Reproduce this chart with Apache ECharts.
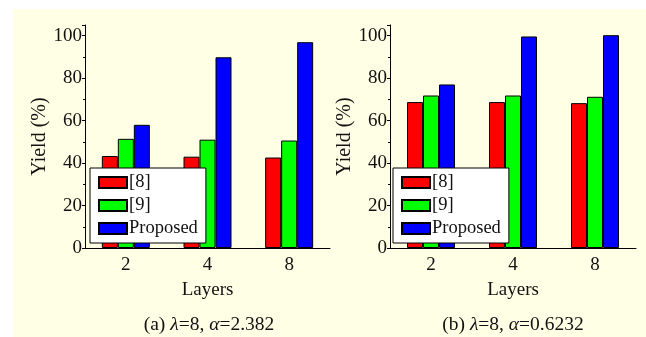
<!DOCTYPE html>
<html><head><meta charset="utf-8">
<script src="https://cdn.jsdelivr.net/npm/echarts@6/dist/echarts.min.js"></script>
<style>html,body{margin:0;padding:0;background:#fff}#c{width:646px;height:337px}</style>
</head><body><div id="c"></div>
<script>
const categories = ['2', '4', '8'];
const seriesNames = ['[8]', '[9]', 'Proposed'];
const leftRef8 = [43.3, 43.0, 42.6];
const leftRef9 = [51.4, 51.0, 50.6];
const leftProposed = [58.0, 89.8, 96.9];
const rightRef8 = [68.7, 68.7, 68.2];
const rightRef9 = [71.8, 71.8, 71.2];
const rightProposed = [77.0, 99.6, 100.2];
const yTicks = [0, 20, 40, 60, 80, 100];
const captions = ['(a) {i|λ}=8, {i|α}=2.382', '(b) {i|λ}=8, {i|α}=0.6232'];
const colors = ['#ff0000', '#00ff00', '#0000ff'];

const FONT = 'Liberation Serif';
const chart = echarts.init(document.getElementById('c'), null, {renderer: 'canvas'});

const grids = [
  {left: 85, top: 25, width: 245, height: 223},
  {left: 390, top: 25, width: 246, height: 223}
];
function xAxis(i) {
  return {
    type: 'category', gridIndex: i, data: categories,
    name: 'Layers', nameLocation: 'middle', nameGap: 33,
    nameTextStyle: {fontFamily: FONT, fontSize: 19, color: '#111'},
    axisLine: {lineStyle: {color: '#000', width: 1}},
    axisTick: {inside: true, length: 4, lineStyle: {color: '#000'}},
    axisLabel: {fontFamily: FONT, fontSize: 19, color: '#111', margin: 8},
    splitLine: {show: false}
  };
}
function yAxis(i) {
  return {
    type: 'value', gridIndex: i, min: 0, max: 105, interval: 20,
    name: 'Yield (%)', nameLocation: 'middle', nameGap: 35,
    nameTextStyle: {fontFamily: FONT, fontSize: 20, color: '#111'},
    axisLine: {show: true, lineStyle: {color: '#000', width: 1}},
    axisTick: {show: true, length: 3, lineStyle: {color: '#000'}},
    minorTick: {show: true, splitNumber: 2, length: 2, lineStyle: {color: '#000'}},
    axisLabel: {fontFamily: FONT, fontSize: 19, color: '#111', margin: 3,
      formatter: v => yTicks.includes(v) ? String(v) : ''},
    splitLine: {show: false}
  };
}
function bars(i, data, k) {
  return {
    type: 'bar', name: seriesNames[k], xAxisIndex: i, yAxisIndex: i, data: data,
    barWidth: 16, barGap: '0%',
    itemStyle: {color: colors[k], borderColor: '#000', borderWidth: 1},
    animation: false
  };
}
function legend(left) {
  return {
    data: seriesNames.map(n => ({name: n, icon: 'rect'})), orient: 'vertical', left: left, top: 168,
    backgroundColor: '#fff', borderColor: '#000', borderWidth: 1,
    padding: [5, 8, 5, 8], itemGap: 4, itemWidth: 28, itemHeight: 11,
    textStyle: {fontFamily: FONT, fontSize: 18.5, color: '#111', padding: [0, 0, 0, -3]},
    selectedMode: false
  };
}
const capStyle = (t) => ({text: t, align: 'center', verticalAlign: 'middle',
  font: '19.5px ' + FONT, fill: '#111', rich: {i: {fontStyle: 'italic', fontFamily: FONT, fontSize: 19.5, fill: '#111'}}});
chart.setOption({
  animation: false,
  backgroundColor: '#fff',
  graphic: [
    {type: 'rect', z: -10, silent: true, shape: {x: 13, y: 9, width: 640, height: 340}, style: {fill: '#ffffe6'}},
    {type: 'text', x: 209, y: 325, style: capStyle(captions[0])},
    {type: 'text', x: 513, y: 325, style: capStyle(captions[1])}
  ],
  grid: grids,
  legend: [legend(90), legend(393)],
  xAxis: [xAxis(0), xAxis(1)],
  yAxis: [yAxis(0), yAxis(1)],
  series: [
    bars(0, leftRef8, 0), bars(0, leftRef9, 1), bars(0, leftProposed, 2),
    bars(1, rightRef8, 0), bars(1, rightRef9, 1), bars(1, rightProposed, 2)
  ]
});
</script></body></html>
